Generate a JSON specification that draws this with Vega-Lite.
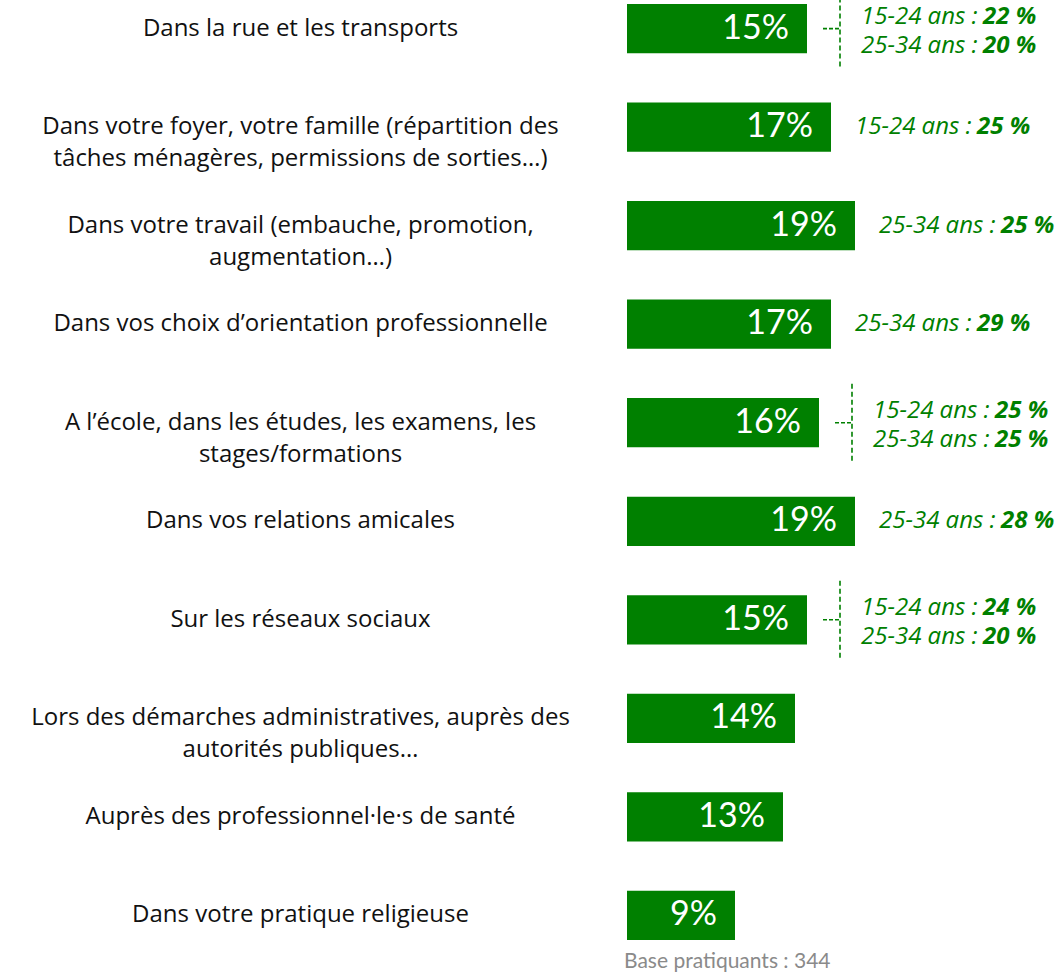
{
  "$schema": "https://vega.github.io/schema/vega-lite/v6.json",
  "autosize": {"type": "none"},
  "padding": {"left": 627, "top": 0, "right": 0, "bottom": 31},
  "width": 437,
  "height": 944,
  "background": "white",
  "config": {"view": {"stroke": null}},
  "title": {
    "text": "Base pratiquants : 344",
    "orient": "bottom",
    "anchor": "start",
    "frame": "group",
    "font": "Lato",
    "fontSize": 21,
    "fontWeight": "normal",
    "color": "#8a8a8a",
    "offset": 7,
    "dx": -3
  },
  "data": {
    "values": [
      {"cat": "Dans la rue et les transports", "value": 0.15, "a1": "15-24 ans : ", "p1": "22 %", "a2": "25-34 ans : ", "p2": "20 %"},
      {"cat": "Dans votre foyer, votre famille (répartition des|tâches ménagères, permissions de sorties…)", "value": 0.17, "a1": "15-24 ans : ", "p1": "25 %"},
      {"cat": "Dans votre travail (embauche, promotion,|augmentation…)", "value": 0.19, "a1": "25-34 ans : ", "p1": "25 %"},
      {"cat": "Dans vos choix d’orientation professionnelle", "value": 0.17, "a1": "25-34 ans : ", "p1": "29 %"},
      {"cat": "A l’école, dans les études, les examens, les|stages/formations", "value": 0.16, "a1": "15-24 ans : ", "p1": "25 %", "a2": "25-34 ans : ", "p2": "25 %"},
      {"cat": "Dans vos relations amicales", "value": 0.19, "a1": "25-34 ans : ", "p1": "28 %"},
      {"cat": "Sur les réseaux sociaux", "value": 0.15, "a1": "15-24 ans : ", "p1": "24 %", "a2": "25-34 ans : ", "p2": "20 %"},
      {"cat": "Lors des démarches administratives, auprès des|autorités publiques…", "value": 0.14},
      {"cat": "Auprès des professionnel·le·s de santé", "value": 0.13},
      {"cat": "Dans votre pratique religieuse", "value": 0.09}
    ]
  },
  "encoding": {
    "y": {
      "field": "cat",
      "type": "nominal",
      "sort": null,
      "scale": {"paddingInner": 0.5, "paddingOuter": 0.04},
      "axis": {
        "title": null,
        "domain": false,
        "ticks": false,
        "tickSize": 0,
        "labelPadding": 327,
        "labelAlign": "center",
        "labelBaseline": "middle",
        "labelFont": "Open Sans",
        "labelFontSize": 24,
        "labelColor": "#111111",
        "labelLimit": 700,
        "labelLineHeight": 32,
        "labelExpr": "split(datum.label, '|')"
      }
    }
  },
  "layer": [
    {
      "mark": {"type": "bar", "color": "#008000"},
      "encoding": {
        "x": {"field": "value", "type": "quantitative", "scale": {"domain": [0, 0.36417], "nice": false, "zero": true}, "axis": null}
      }
    },
    {
      "mark": {"type": "text", "align": "right", "baseline": "middle", "dx": -18, "font": "Lato", "fontSize": 34, "color": "white"},
      "encoding": {
        "x": {"field": "value", "type": "quantitative"},
        "text": {"field": "value", "type": "quantitative", "format": ".0%"}
      }
    },
    {
      "transform": [{"filter": "datum.a1 != null && datum.a2 == null"}],
      "mark": {"type": "text", "align": "left", "baseline": "middle", "dx": 24, "font": "Open Sans", "fontStyle": "italic", "fontSize": 24, "color": "#008000"},
      "encoding": {
        "x": {"field": "value", "type": "quantitative"},
        "text": {"field": "a1"}
      }
    },
    {
      "transform": [{"filter": "datum.a1 != null && datum.a2 == null"}],
      "mark": {"type": "text", "align": "left", "baseline": "middle", "dx": 146, "font": "Open Sans", "fontStyle": "italic", "fontWeight": "bold", "fontSize": 24, "color": "#008000"},
      "encoding": {
        "x": {"field": "value", "type": "quantitative"},
        "text": {"field": "p1"}
      }
    },
    {
      "transform": [{"filter": "datum.a2 != null"}],
      "mark": {"type": "text", "align": "left", "baseline": "middle", "dx": 54, "dy": -12, "font": "Open Sans", "fontStyle": "italic", "fontSize": 24, "color": "#008000"},
      "encoding": {
        "x": {"field": "value", "type": "quantitative"},
        "text": {"field": "a1"}
      }
    },
    {
      "transform": [{"filter": "datum.a2 != null"}],
      "mark": {"type": "text", "align": "left", "baseline": "middle", "dx": 176, "dy": -12, "font": "Open Sans", "fontStyle": "italic", "fontWeight": "bold", "fontSize": 24, "color": "#008000"},
      "encoding": {
        "x": {"field": "value", "type": "quantitative"},
        "text": {"field": "p1"}
      }
    },
    {
      "transform": [{"filter": "datum.a2 != null"}],
      "mark": {"type": "text", "align": "left", "baseline": "middle", "dx": 54, "dy": 17, "font": "Open Sans", "fontStyle": "italic", "fontSize": 24, "color": "#008000"},
      "encoding": {
        "x": {"field": "value", "type": "quantitative"},
        "text": {"field": "a2"}
      }
    },
    {
      "transform": [{"filter": "datum.a2 != null"}],
      "mark": {"type": "text", "align": "left", "baseline": "middle", "dx": 176, "dy": 17, "font": "Open Sans", "fontStyle": "italic", "fontWeight": "bold", "fontSize": 24, "color": "#008000"},
      "encoding": {
        "x": {"field": "value", "type": "quantitative"},
        "text": {"field": "p2"}
      }
    },
    {
      "transform": [{"filter": "datum.a2 != null"}],
      "mark": {"type": "rule", "color": "#008000", "strokeWidth": 1.6, "strokeDash": [5, 3], "xOffset": 33, "x2Offset": 33, "yOffset": -39, "y2Offset": 39},
      "encoding": {
        "x": {"field": "value", "type": "quantitative"},
        "x2": {"field": "value"},
        "y2": {"field": "cat"}
      }
    },
    {
      "transform": [{"filter": "datum.a2 != null"}],
      "mark": {"type": "rule", "color": "#008000", "strokeWidth": 1.6, "strokeDash": [4, 2], "xOffset": 16, "x2Offset": 33},
      "encoding": {
        "x": {"field": "value", "type": "quantitative"},
        "x2": {"field": "value"}
      }
    }
  ]
}
